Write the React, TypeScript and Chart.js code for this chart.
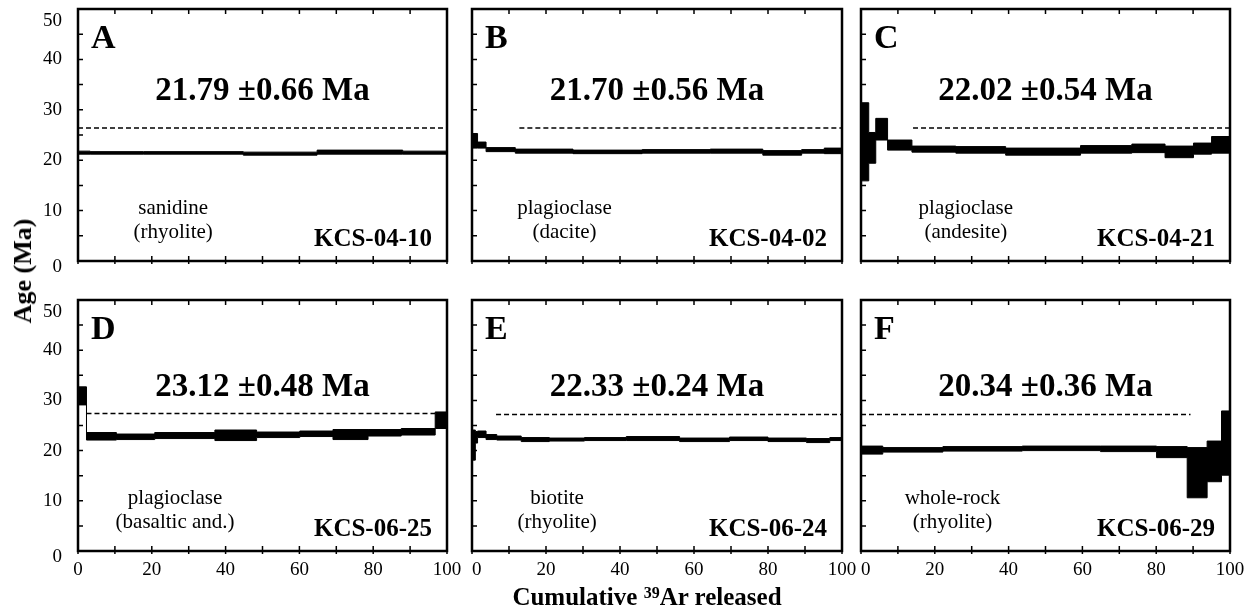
import React, { useEffect, useRef } from 'react';
import { Chart, registerables } from 'chart.js';

Chart.register(...registerables);

const SERIF = "'Liberation Serif', 'Times New Roman', Times, serif";

// ---------- data ----------
const panelLetters = ['A', 'B', 'C', 'D', 'E', 'F'];
const plateauLabels = ['21.79 \u00b10.66 Ma', '21.70 \u00b10.56 Ma', '22.02 \u00b10.54 Ma', '23.12 \u00b10.48 Ma', '22.33 \u00b10.24 Ma', '20.34 \u00b10.36 Ma'];
const sampleIds = ['KCS-04-10', 'KCS-04-02', 'KCS-04-21', 'KCS-06-25', 'KCS-06-24', 'KCS-06-29'];
const mineralNames = ['sanidine', 'plagioclase', 'plagioclase', 'plagioclase', 'biotite', 'whole-rock'];
const rockNames = ['(rhyolite)', '(dacite)', '(andesite)', '(basaltic and.)', '(rhyolite)', '(rhyolite)'];

const xTickValues = [0, 20, 40, 60, 80, 100];
const yTickValues = [0, 10, 20, 30, 40, 50];

// cumulative 39Ar step boundaries (%), upper and lower age (Ma) of each step
const edgesA = [0, 3.3, 17.7, 44.8, 64.8, 88, 100];
const hiA = [21.8, 21.7, 21.7, 21.6, 22.0, 21.8];
const loA = [21.2, 21.2, 21.2, 21.0, 21.2, 21.2];

const edgesB = [0, 1.5, 3.8, 11.7, 27.3, 46, 64.4, 78.6, 89.1, 95.2, 100];
const hiB = [25.3, 23.6, 22.5, 22.2, 22.0, 22.1, 22.2, 21.9, 22.1, 22.4];
const loB = [22.4, 22.4, 21.7, 21.4, 21.3, 21.4, 21.4, 21.0, 21.4, 21.3];

const edgesC = [0, 2.1, 4.0, 7.2, 13.8, 25.7, 39.2, 59.5, 73.4, 82.4, 90.1, 95, 100];
const hiC = [31.4, 25.5, 28.3, 24.0, 22.8, 22.7, 22.4, 22.9, 23.2, 22.8, 23.4, 24.7];
const loC = [15.9, 19.4, 24.0, 22.0, 21.6, 21.4, 21.0, 21.4, 21.5, 20.5, 21.2, 21.4];

const edgesD = [0, 2.3, 10.4, 20.8, 37.1, 48.4, 60.1, 69.1, 78.6, 87.6, 96.8, 100];
const hiD = [32.7, 23.6, 23.3, 23.6, 24.1, 23.7, 23.9, 24.2, 24.2, 24.4, 27.7];
const loD = [29.1, 22.1, 22.2, 22.4, 22.0, 22.6, 22.8, 22.2, 22.9, 23.1, 24.4];

const edgesE = [0, 0.9, 1.5, 3.8, 6.7, 13.3, 20.9, 30.4, 41.7, 56.1, 69.6, 80, 90.4, 96.7, 100];
const hiE = [24.1, 23.8, 23.9, 23.2, 22.9, 22.6, 22.5, 22.6, 22.8, 22.5, 22.7, 22.5, 22.4, 22.6];
const loE = [18.1, 21.5, 22.6, 22.2, 22.1, 21.8, 21.9, 22.0, 22.0, 21.8, 22.0, 21.8, 21.6, 22.0];

const edgesF = [0, 5.9, 22.2, 43.7, 64.9, 80.1, 88.4, 93.8, 97.7, 100];
const hiF = [20.9, 20.6, 20.8, 20.9, 20.9, 20.8, 20.6, 21.9, 27.9];
const loF = [19.3, 19.7, 19.9, 20.0, 19.8, 18.6, 10.6, 13.8, 15.1];

// dashed plateau marker: start %, end %, drawn age
const plateauStart = [0, 12.8, 14.1, 2.3, 6.5, 0];
const plateauEnd = [100, 100, 100, 96.8, 100, 89.3];
const plateauLevel = [26.4, 26.4, 26.4, 27.4, 27.2, 27.2];

const allEdges = [edgesA, edgesB, edgesC, edgesD, edgesE, edgesF];
const allHi = [hiA, hiB, hiC, hiD, hiE, hiF];
const allLo = [loA, loB, loC, loD, loE, loF];

// ---------- layout ----------
const cols = [
  { left: 78, width: 369 },
  { left: 472, width: 370 },
  { left: 861, width: 369 },
];
const rows = [
  { top: 9, height: 252 },
  { top: 300, height: 251 },
];
const mineralCenterFrac = [0.258, 0.25, 0.284, 0.263, 0.23, 0.248];

function envelope(edges: number[], vals: number[]) {
  return edges.map((x, i) => ({ x, y: vals[Math.min(i, vals.length - 1)] }));
}

function Panel({ idx }: { idx: number }) {
  const ref = useRef<HTMLCanvasElement>(null);
  const r = idx < 3 ? 0 : 1;
  const c = idx % 3;
  const col = cols[c];
  const row = rows[r];
  const padL = c === 0 ? 78 : 12;
  const padR = 16;
  const padT = 10;
  const padB = r === 1 ? 36 : 20;
  const W = col.width + padL + padR;
  const H = row.height + padT + padB;

  useEffect(() => {
    const canvas = ref.current;
    if (!canvas) return;
    const deco = {
      id: 'deco' + idx,
      afterDraw(chart: any) {
        const ctx = chart.ctx;
        const a = chart.chartArea;
        const xs = chart.scales.x;
        const ys = chart.scales.y;
        ctx.save();
        ctx.strokeStyle = '#000';
        ctx.fillStyle = '#000';
        // ticks
        ctx.lineWidth = 1.5;
        ctx.beginPath();
        for (let v = 0; v <= 50; v += 5) {
          const py = ys.getPixelForValue(v);
          ctx.moveTo(a.left, py);
          ctx.lineTo(a.left + 5, py);
        }
        for (let v = 0; v <= 100; v += 10) {
          const px = xs.getPixelForValue(v);
          ctx.moveTo(px, a.top);
          ctx.lineTo(px, a.top + 5);
          ctx.moveTo(px, a.bottom + 3);
          ctx.lineTo(px, a.bottom - 5);
        }
        ctx.stroke();
        // frame
        ctx.lineWidth = 2.5;
        ctx.strokeRect(a.left, a.top, a.right - a.left, a.bottom - a.top);
        // texts
        ctx.textBaseline = 'alphabetic';
        ctx.textAlign = 'left';
        ctx.font = `bold 34px ${SERIF}`;
        ctx.fillText(panelLetters[idx], a.left + 13, a.top + 39);
        ctx.textAlign = 'center';
        ctx.font = `bold 33px ${SERIF}`;
        ctx.fillText(plateauLabels[idx], (a.left + a.right) / 2, a.top + (r === 0 ? 91 : 96));
        ctx.font = `21px ${SERIF}`;
        const mx = a.left + (a.right - a.left) * mineralCenterFrac[idx];
        ctx.fillText(mineralNames[idx], mx, a.bottom - 47);
        ctx.fillText(rockNames[idx], mx, a.bottom - 23);
        ctx.textAlign = 'right';
        ctx.font = `bold 25px ${SERIF}`;
        ctx.fillText(sampleIds[idx], a.right - 15, a.bottom - 15);
        ctx.restore();
      },
    };

    const chart = new Chart(canvas, {
      type: 'line',
      data: {
        datasets: [
          {
            data: envelope(allEdges[idx], allHi[idx]),
            stepped: true,
            borderColor: '#000',
            borderWidth: 1,
            backgroundColor: '#000',
            pointRadius: 0,
            fill: '+1',
          },
          {
            data: envelope(allEdges[idx], allLo[idx]),
            stepped: true,
            borderColor: '#000',
            borderWidth: 1,
            pointRadius: 0,
            fill: false,
          },
          {
            data: [
              { x: plateauStart[idx], y: plateauLevel[idx] },
              { x: plateauEnd[idx], y: plateauLevel[idx] },
            ],
            borderColor: '#000',
            borderWidth: 1.4,
            borderDash: [5, 3],
            pointRadius: 0,
            fill: false,
          },
        ],
      },
      options: {
        animation: false,
        responsive: false,
        events: [],
        layout: {
          padding: { left: c === 0 ? 8 : padL, right: padR, top: padT, bottom: r === 1 ? 6 : padB },
        },
        plugins: { legend: { display: false }, tooltip: { enabled: false } },
        scales: {
          x: {
            type: 'linear',
            min: 0,
            max: 100,
            display: r === 1,
            grid: { display: false, drawTicks: false },
            border: { display: false },
            afterBuildTicks: (s: any) => {
              s.ticks = xTickValues.map((v) => ({ value: v }));
            },
            afterFit: (s: any) => {
              s.height = r === 1 ? 30 : 0;
              s.paddingLeft = 0;
              s.paddingRight = 0;
              s.paddingTop = 0;
              s.paddingBottom = 0;
            },
            ticks: {
              color: '#000',
              padding: 8,
              maxRotation: 0,
              autoSkip: false,
              font: { family: SERIF, size: 19 },
              callback: (v: number) => (v === 0 && c > 0 ? '\u00a0\u00a00' : String(v)),
            },
          },
          y: {
            type: 'linear',
            min: 0,
            max: 50,
            display: c === 0,
            grid: { display: false, drawTicks: false },
            border: { display: false },
            afterBuildTicks: (s: any) => {
              s.ticks = yTickValues.map((v) => ({ value: v }));
            },
            afterFit: (s: any) => {
              s.width = c === 0 ? 70 : 0;
              s.paddingLeft = 0;
              s.paddingRight = 0;
              s.paddingTop = 0;
              s.paddingBottom = 0;
            },
            ticks: {
              color: '#000',
              padding: 16,
              autoSkip: false,
              callback: (v: number) => (v === 0 || v === 50 ? ['', String(v)] : String(v)),
              font: (ctx: any) => {
                const v = ctx.tick ? ctx.tick.value : -1;
                const lh = v === 50 ? 24 : v === 0 ? 12 : 22;
                return { family: SERIF, size: 19, lineHeight: lh / 19 };
              },
            },
          },
        },
      },
      plugins: [deco],
    } as any);
    return () => chart.destroy();
  }, [idx]);

  return (
    <canvas
      ref={ref}
      width={W}
      height={H}
      style={{ position: 'absolute', left: col.left - padL, top: row.top - padT, width: W, height: H }}
    />
  );
}

export default function App() {
  return (
    <div style={{ position: 'absolute', left: 0, top: 0, width: 1252, height: 612, background: '#fff', overflow: 'hidden' }}>
      {[0, 1, 2, 3, 4, 5].map((i) => (
        <Panel key={i} idx={i} />
      ))}
      <div
        style={{
          position: 'absolute',
          left: 23,
          top: 271,
          transform: 'translate(-50%, -50%) rotate(-90deg)',
          whiteSpace: 'nowrap',
          fontFamily: SERIF,
          fontWeight: 'bold',
          fontSize: 26,
          lineHeight: '26px',
          color: '#000',
        }}
      >
        Age (Ma)
      </div>
      <div
        style={{
          position: 'absolute',
          left: 647,
          top: 584,
          transform: 'translateX(-50%)',
          whiteSpace: 'nowrap',
          fontFamily: SERIF,
          fontWeight: 'bold',
          fontSize: 25,
          lineHeight: '25px',
          color: '#000',
        }}
      >
        Cumulative <span style={{ fontSize: 16, position: 'relative', top: -7 }}>39</span>Ar released
      </div>
    </div>
  );
}
